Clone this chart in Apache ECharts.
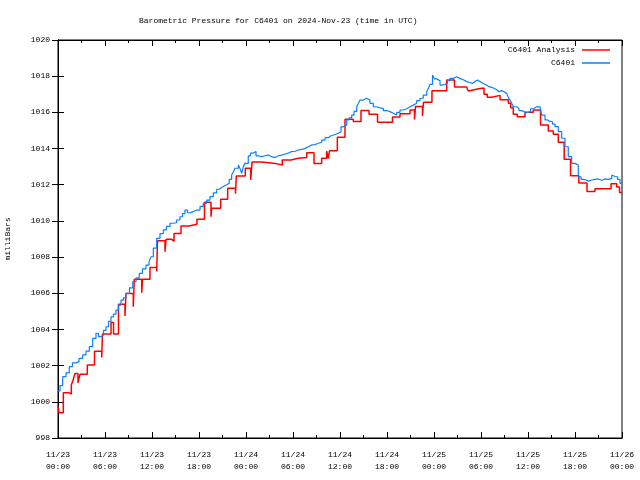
<!DOCTYPE html>
<html>
<head>
<meta charset="utf-8">
<script src="https://cdn.jsdelivr.net/npm/echarts@6/dist/echarts.min.js"></script>
<style>html,body{margin:0;padding:0;background:#fff}#c{width:640px;height:480px}</style>
</head>
<body>
<div id="c"></div>
<script>
// Hours since 2024-11-23 00:00 UTC, and pressures (mb)
var analysisHours = [0,0.13,0.68,1.44,1.70,1.95,2.17,2.55,2.68,2.81,3.74,4.66,5.58,5.68,6.77,7.09,7.72,8.55,8.68,9.61,9.74,10.69,10.79,11.74,12.60,12.70,13.66,13.79,14.52,14.81,15.70,16.72,17.74,18.70,19.53,19.62,20.77,21.66,22.66,22.76,23.91,24.60,24.77,26.00,27.70,28.63,29.74,30.68,31.75,32.68,33.66,34.30,34.51,34.66,35.66,36.64,37.70,38.68,39.70,40.79,42.70,43.66,44.94,45.51,45.64,46.53,46.66,47.74,49.62,50.62,52.17,52.34,52.60,53.66,54.38,54.80,55.37,56.43,57.49,57.79,58.12,58.63,59.62,60.68,61.60,62.59,63.23,63.87,64.62,65.43,66.49,67.53,68.55,70.60,71.33,71.68,72];
var analysisValues = [999.75,999.4,1000.5,1000.43,1000.93,1001.24,1001.57,1001.05,1001.3,1001.52,1002.03,1002.79,1002.45,1003.75,1004.39,1003.75,1005.39,1004.75,1005.99,1005.26,1006.77,1006.03,1006.77,1007.43,1007.2,1008.91,1008.3,1008.98,1008.87,1009.31,1009.72,1009.81,1010.09,1011.03,1010.23,1010.7,1011.2,1011.8,1011.5,1012.48,1012.91,1012.26,1013.25,1013.18,1013.09,1013.37,1013.46,1013.51,1013.77,1013.18,1013.46,1013.85,1013.45,1013.88,1014.62,1015.62,1015.5,1016.1,1015.9,1015.45,1015.75,1015.93,1016.13,1015.6,1016.33,1015.8,1016.56,1017.2,1017.79,1017.4,1017.3,1017.2,1017.3,1017.35,1017.0,1016.84,1016.94,1016.7,1016.5,1016.26,1015.9,1015.76,1016.0,1016.13,1015.3,1014.97,1014.79,1014.35,1013.41,1012.49,1012.1,1011.63,1011.78,1012.05,1011.87,1011.57,1011.57];

var obsHours = [0,0.26,0.60,1.02,1.44,1.85,2.30,2.68,3.15,3.57,4.00,4.43,4.85,5.17,5.49,5.81,6.13,6.45,6.77,7.09,7.40,7.72,8.04,8.36,8.68,9.13,9.54,9.96,10.38,10.79,11.23,11.62,11.87,12.17,12.60,13.02,13.44,13.85,14.30,14.72,15.13,15.57,15.89,16.21,16.53,16.85,17.27,17.71,18.13,18.55,18.98,19.40,19.83,20.26,20.58,20.90,21.22,21.54,21.86,22.17,22.38,22.60,23.02,23.23,23.45,23.66,23.87,24.29,24.57,24.93,25.28,25.57,26.00,26.43,26.85,27.28,27.70,28.12,28.56,28.98,29.40,29.83,30.26,30.68,31.11,31.53,31.95,32.39,32.81,33.23,33.66,34.09,34.51,34.85,35.14,35.49,35.78,36.13,36.42,36.86,37.15,37.49,37.79,38.13,38.36,38.55,38.98,39.41,39.83,40.25,40.69,41.11,41.53,41.96,42.38,42.80,43.24,43.66,44.08,44.51,44.94,45.36,45.79,46.21,46.63,47.07,47.30,47.49,47.81,48.06,48.34,48.77,49.09,49.40,49.72,50.04,50.46,50.90,51.32,51.74,52.17,52.60,52.91,53.23,53.55,53.87,54.29,54.73,55.02,55.37,55.66,56.00,56.30,56.64,56.94,57.28,57.51,57.70,57.92,58.12,58.56,58.85,59.20,59.49,59.83,60.04,60.32,60.68,61.11,61.53,61.75,62.17,62.49,62.81,63.13,63.45,63.87,64.30,64.72,65.14,65.58,66.00,66.42,66.77,67.06,67.40,67.70,68.13,68.55,68.98,69.41,69.83,70.26,70.69,70.89,71.11,71.43,71.74,72];
var obsValues = [1000.6,1000.9,1001.39,1001.6,1001.94,1002.15,1002.22,1002.4,1002.59,1002.8,1003.05,1003.51,1003.79,1003.6,1003.69,1003.95,1004.15,1004.45,1004.7,1004.85,1005.07,1005.35,1005.62,1005.75,1005.99,1006.3,1006.64,1006.85,1007.1,1007.35,1007.56,1007.75,1008.02,1008.5,1009.04,1009.3,1009.5,1009.7,1009.87,1009.9,1010.05,1010.23,1010.4,1010.6,1010.45,1010.51,1010.6,1010.6,1010.8,1010.97,1011.15,1011.34,1011.55,1011.75,1011.85,1011.93,1012.0,1012.08,1012.3,1012.54,1012.7,1012.91,1013.09,1012.9,1012.63,1013.0,1013.18,1013.6,1013.75,1013.83,1013.6,1013.55,1013.6,1013.64,1013.55,1013.5,1013.6,1013.64,1013.7,1013.75,1013.83,1013.85,1013.92,1013.95,1014.01,1014.1,1014.2,1014.22,1014.29,1014.35,1014.47,1014.6,1014.71,1014.75,1014.79,1014.85,1014.93,1015.2,1015.3,1015.58,1015.7,1015.85,1016.05,1016.31,1016.5,1016.68,1016.78,1016.68,1016.5,1016.31,1016.25,1016.22,1016.1,1016.04,1015.95,1015.85,1016.0,1016.13,1016.2,1016.31,1016.4,1016.5,1016.65,1016.78,1016.95,1017.14,1017.35,1017.55,1018.07,1017.85,1017.75,1017.51,1017.55,1017.6,1017.75,1017.88,1017.97,1017.88,1017.8,1017.7,1017.65,1017.6,1017.7,1017.79,1017.7,1017.6,1017.5,1017.42,1017.38,1017.33,1017.25,1017.14,1017.2,1017.14,1017.05,1016.96,1016.8,1016.68,1016.5,1016.31,1016.22,1016.1,1016.04,1015.98,1015.95,1016.04,1016.2,1016.31,1016.3,1016.31,1015.85,1015.58,1015.5,1015.48,1015.35,1015.21,1014.93,1014.57,1014.1,1013.55,1013.18,1013.09,1012.44,1012.3,1012.26,1012.2,1012.26,1012.3,1012.32,1012.25,1012.32,1012.3,1012.35,1012.54,1012.45,1012.44,1012.3,1012.08,1012.08];

var tickDates = ['11/23','11/23','11/23','11/23','11/24','11/24','11/24','11/24','11/25','11/25','11/25','11/25','11/26'];
var tickTimes = ['00:00','06:00','12:00','18:00','00:00','06:00','12:00','18:00','00:00','06:00','12:00','18:00','00:00'];

function pairs(h, v) { return h.map(function (x, i) { return [x, v[i]]; }); }

var FONT = 'Liberation Mono';
var chart = echarts.init(document.getElementById('c'), null, {renderer: 'canvas'});
var tickStyle = {inside: true, length: 6, lineStyle: {color: '#000', width: 1}};
var minorStyle = {show: true, splitNumber: 2, length: 3, lineStyle: {color: '#000', width: 1}};
chart.setOption({
  animation: false,
  backgroundColor: '#fff',
  title: {
    text: 'Barometric Pressure for C6401 on 2024-Nov-23 (time in UTC)',
    left: 134, top: 12,
    textStyle: {fontFamily: FONT, fontSize: 8, fontWeight: 'normal', color: '#000'}
  },
  legend: {
    orient: 'vertical', right: 30, top: 45, align: 'right', padding: 0,
    icon: 'rect', itemWidth: 28, itemHeight: 1.5, itemGap: 3,
    textStyle: {fontFamily: FONT, fontSize: 8, color: '#000', lineHeight: 10, padding: [0, 2, 0, 0]},
    data: ['C6401 Analysis', 'C6401']
  },
  grid: {left: 58, right: 18, top: 40, bottom: 42, show: true, borderColor: '#000', borderWidth: 1,
         containLabel: false, outerBoundsMode: 'none'},
  xAxis: [{
    type: 'value', min: 0, max: 72, interval: 6,
    axisLine: {show: true, lineStyle: {color: '#000'}},
    axisTick: tickStyle, minorTick: minorStyle,
    splitLine: {show: false},
    axisLabel: {
      margin: 11, color: '#000', fontFamily: FONT, fontSize: 8, lineHeight: 12,
      formatter: function (v) { var i = Math.round(v / 6); return tickDates[i] + '\n' + tickTimes[i]; }
    }
  }, {
    type: 'value', min: 0, max: 72, interval: 6, position: 'top',
    axisLine: {show: true, lineStyle: {color: '#000'}},
    axisTick: tickStyle, minorTick: minorStyle,
    splitLine: {show: false}, axisLabel: {show: false}
  }],
  yAxis: [{
    type: 'value', min: 998, max: 1020, interval: 2,
    name: 'milliBars', nameLocation: 'middle', nameGap: 46, nameRotate: 90,
    nameTextStyle: {fontFamily: FONT, fontSize: 8, color: '#000'},
    axisLine: {show: true, lineStyle: {color: '#000'}},
    axisTick: tickStyle, splitLine: {show: false},
    axisLabel: {margin: 8, color: '#000', fontFamily: FONT, fontSize: 8, formatter: function (v) { return String(v); }}
  }, {
    type: 'value', min: 998, max: 1020, interval: 2, position: 'right',
    axisLine: {show: true, lineStyle: {color: '#000'}},
    axisTick: tickStyle, splitLine: {show: false}, axisLabel: {show: false}
  }],
  series: [{
    name: 'C6401 Analysis', type: 'line', step: 'end', symbol: 'none',
    lineStyle: {color: '#ff0000', width: 1.5}, itemStyle: {color: '#ff0000'},
    data: pairs(analysisHours, analysisValues)
  }, {
    name: 'C6401', type: 'line', step: 'end', symbol: 'none',
    lineStyle: {color: '#0a80ff', width: 1.2}, itemStyle: {color: '#0a80ff'},
    data: pairs(obsHours, obsValues)
  }]
});
</script>
</body>
</html>
